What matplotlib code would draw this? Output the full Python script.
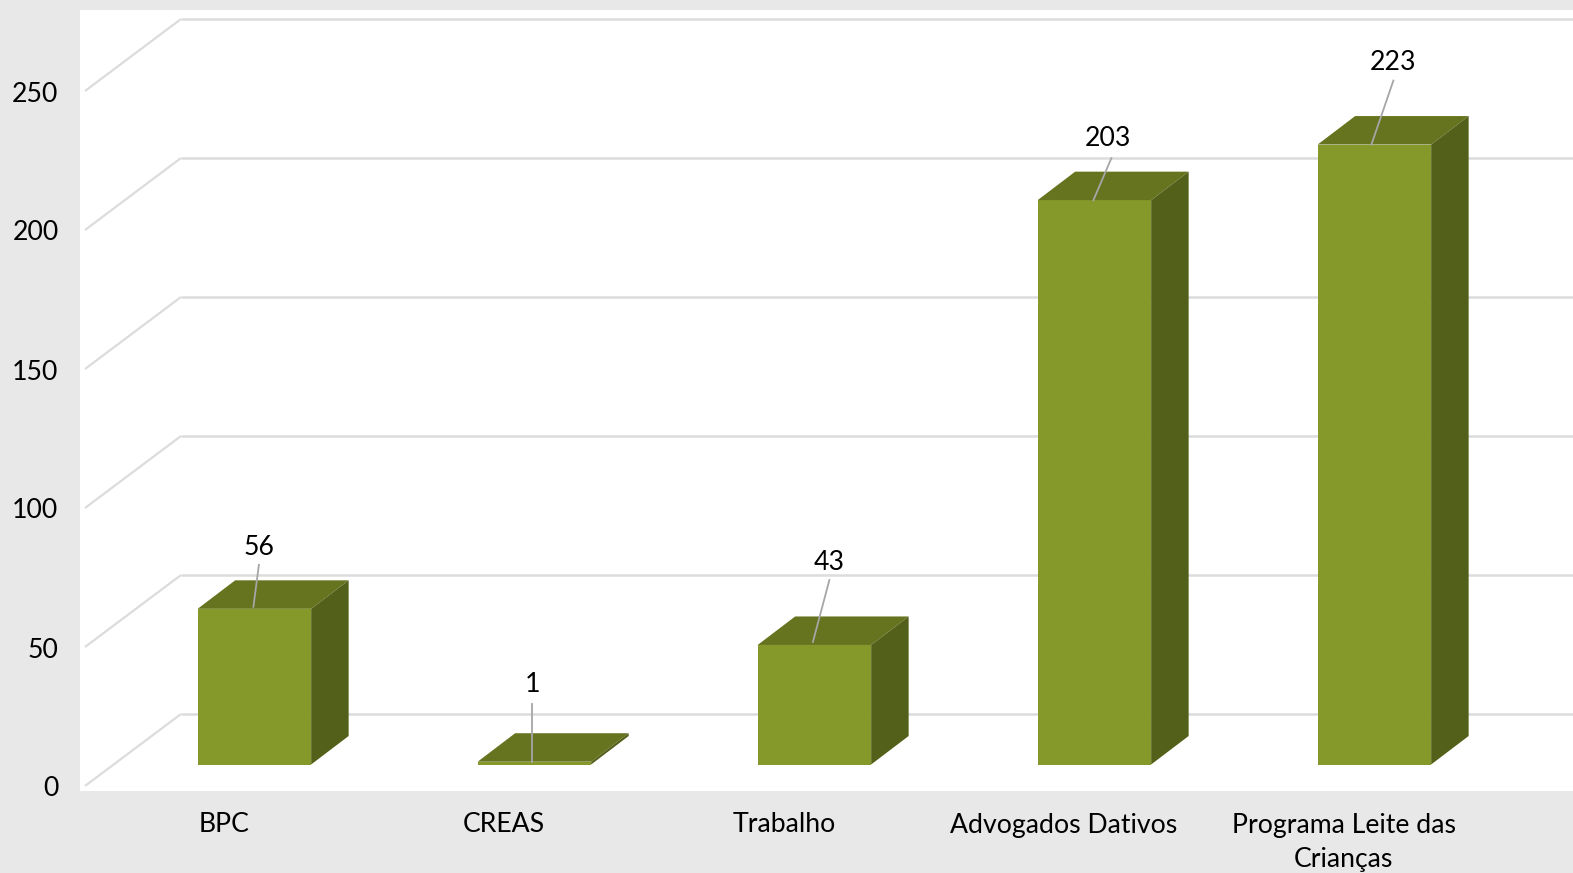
import matplotlib
matplotlib.use('Agg')
import matplotlib.pyplot as plt
from matplotlib.patches import Rectangle

categories = ['BPC', 'CREAS', 'Trabalho', 'Advogados Dativos', 'Programa Leite das\nCrianças']
values = [56, 1, 43, 203, 223]
grid_ticks = [0, 50, 100, 150, 200, 250]

W, H = 1573, 873
px_x = 280.0      # pixels per category
px_y = 2.78       # pixels per value unit
x0_px = 254.4     # centre of first bar
y0_px = 764.5     # baseline of the bars

# 3d look, everything in data units
bar_w = 113.5 / px_x
bar_dx = 37.5 / px_x
bar_dy = 28.5 / px_y
wall_left = (85 - x0_px) / px_x
wall_back = (181 - x0_px) / px_x
wall_front_y = (y0_px - 786) / px_y
back_y = (y0_px - 714) / px_y

def dx(px):
    return px / px_x

def dy(px):
    return px / px_y

plt.rcParams['font.family'] = ['Lato', 'DejaVu Sans']
FS = 19.2

fig = plt.figure(figsize=(W / 100, H / 100), dpi=100, facecolor='#e8e8e8')
ax = fig.add_axes([0, 0, 1, 1])
ax.set_xlim((0 - x0_px) / px_x, (W - x0_px) / px_x)
ax.set_ylim((y0_px - H) / px_y, y0_px / px_y)
ax.axis('off')

# white plot area
ax.add_patch(Rectangle((80, H - 791), W - 80, 791 - 10, transform=None,
                       facecolor='white', edgecolor='none', zorder=0))

# gridlines on the back wall and side wall
right_end = (W - x0_px) / px_x
for t in grid_ticks:
    ax.plot([wall_left, wall_back], [t + wall_front_y, t + back_y], color='#dcdcdc', lw=1.6,
            solid_capstyle='butt', zorder=1)
    ax.plot([wall_back, right_end], [t + back_y, t + back_y], color='#dcdcdc', lw=1.8,
            solid_capstyle='butt', zorder=1)
    ax.text(dx(58.5 - x0_px), t + wall_front_y - dy(3), str(t), ha='right', va='center', fontsize=FS,
            color='black')

# bars
xpos = list(range(len(values)))
ax.bar(xpos, values, width=bar_w, color='#85992b', zorder=3)
for x, v in zip(xpos, values):
    l = x - bar_w / 2
    r = x + bar_w / 2
    ax.fill([l, r, r + bar_dx, l + bar_dx], [v, v, v + bar_dy, v + bar_dy], color='#66741f', lw=0, zorder=3)
    ax.fill([r, r + bar_dx, r + bar_dx, r], [0, bar_dy, v + bar_dy, v], color='#53601a', lw=0, zorder=3)

# value labels with leader lines (offsets from the bar top, pixels)
label_off = [(4.5, 61.5), (-2, 77), (14.5, 82), (14, 61.5), (18.5, 82.5)]
line_start = [(4.5, 44), (-2.5, 58), (15, 65), (17, 42), (19, 64)]
line_end = [(-1, 2), (-2.5, 0), (-1.5, 3), (-1, 0), (-3, 0)]
for x, v, lo, ls, le in zip(xpos, values, label_off, line_start, line_end):
    ax.plot([x + dx(ls[0]), x + dx(le[0])], [v + dy(ls[1]), v + dy(le[1])], color='#a6a6a6', lw=1.3, zorder=4)
    ax.text(x + dx(lo[0]), v + dy(lo[1]), str(v), ha='center', va='center', fontsize=FS, color='black', zorder=5)

# category labels
for x, c in zip(xpos, categories):
    ax.text(x - dx(30.5), dy(-48), c, ha='center', va='top', fontsize=FS, color='black', linespacing=1.5)

fig.savefig('out.png', dpi=100, facecolor=fig.get_facecolor())
